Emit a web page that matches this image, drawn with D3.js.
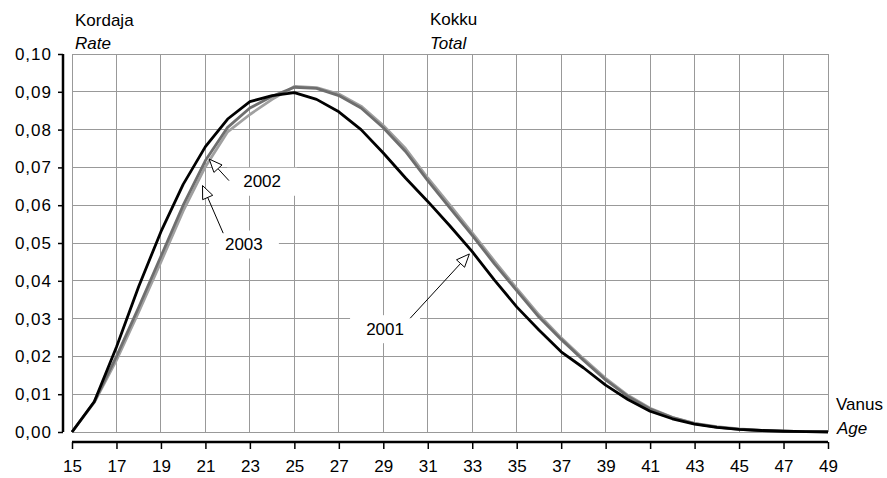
<!DOCTYPE html>
<html>
<head>
<meta charset="utf-8">
<script src="https://cdn.jsdelivr.net/npm/d3@7"></script>
<style>
  html, body { margin: 0; padding: 0; background: #fff; }
  svg { display: block; font-family: Arial, "Liberation Sans", Helvetica, sans-serif; }
</style>
</head>
<body>
<svg id="chart" width="887" height="478"></svg>
<script>
// ---- Data ----
const ages = d3.range(15, 50);
const years = ["2001", "2002", "2003"];
const rate2001 = [0, 0.0080, 0.0225, 0.0385, 0.0530, 0.0655, 0.0755, 0.0828, 0.0874, 0.0890, 0.0898, 0.0880, 0.0847, 0.0800, 0.0738, 0.0672, 0.0610, 0.0545, 0.0477, 0.0402, 0.0331, 0.0270, 0.0212, 0.0170, 0.0124, 0.0086, 0.0055, 0.0035, 0.0021, 0.0012, 0.0007, 0.0004, 0.0002, 0.0001, 0.0000];
const rate2002 = [0, 0.0080, 0.0200, 0.0330, 0.0465, 0.0600, 0.0718, 0.0806, 0.0857, 0.0888, 0.0912, 0.0909, 0.0890, 0.0857, 0.0805, 0.0742, 0.0665, 0.0592, 0.0520, 0.0445, 0.0374, 0.0304, 0.0245, 0.0190, 0.0138, 0.0094, 0.0061, 0.0038, 0.0022, 0.0013, 0.0007, 0.0004, 0.0002, 0.0001, 0.0001];
const rate2003 = [0, 0.0078, 0.0190, 0.0318, 0.0450, 0.0585, 0.0702, 0.0794, 0.0840, 0.0880, 0.0914, 0.0911, 0.0894, 0.0862, 0.0811, 0.0750, 0.0672, 0.0600, 0.0527, 0.0452, 0.0380, 0.0310, 0.0249, 0.0194, 0.0142, 0.0097, 0.0063, 0.0039, 0.0023, 0.0014, 0.0008, 0.0004, 0.0002, 0.0001, 0.0001];
const xTicks = d3.range(15, 50, 2);
const yTicks = d3.range(0, 0.1001, 0.01);
const seriesColors = ["#000000", "#6e6e6e", "#a0a0a0"];
// annotations: arrow tip (age, rate), arrow tail (age, rate), label centre (age, rate)
const annotations = [
  { label: "2002", tip: [21.17, 0.0722], tail: [22.06, 0.0665], text: [23.55, 0.0662] },
  { label: "2003", tip: [20.87, 0.0652], tail: [21.80, 0.0526], text: [22.73, 0.0496] },
  { label: "2001", tip: [32.87, 0.0471], tail: [30.21, 0.0301], text: [29.08, 0.0272] }
];

// ---- Layout ----
const FS = 17;
const svg = d3.select("#chart");
const pLeft = 72, pRight = 828, pTop = 54, pBottom = 432;
const x = d3.scaleLinear().domain([15, 49]).range([pLeft, pRight]);
const y = d3.scaleLinear().domain([0, 0.10]).range([pBottom, pTop]);
const fmt = v => d3.format(".2f")(v).replace(".", ",");

// gridlines
const grid = svg.append("g").attr("stroke", "#999").attr("stroke-width", 1).attr("shape-rendering", "crispEdges");
grid.selectAll(".v").data(xTicks).join("line")
  .attr("x1", d => x(d)).attr("x2", d => x(d)).attr("y1", pTop).attr("y2", pBottom);
grid.selectAll(".h").data(yTicks).join("line")
  .attr("x1", pLeft).attr("x2", pRight).attr("y1", d => y(d)).attr("y2", d => y(d));

// annotation label boxes (white, hide grid)
svg.append("g").selectAll("rect").data(annotations).join("rect")
  .attr("x", d => x(d.text[0]) - 35).attr("y", d => y(d.text[1]) - 14)
  .attr("width", 70).attr("height", 28).attr("fill", "#fff");

// lines
const line = d3.line().x((d, i) => x(ages[i])).y(d => y(d));
const allSeries = [rate2003, rate2002, rate2001];
const allColors = [seriesColors[2], seriesColors[1], seriesColors[0]];
svg.append("g").selectAll("path").data(allSeries).join("path")
  .attr("d", d => line(d)).attr("fill", "none")
  .attr("stroke", (d, i) => allColors[i]).attr("stroke-width", 2.8)
  .attr("stroke-linejoin", "round");

// annotations
const ann = svg.append("g");
annotations.forEach(a => {
  const tx = x(a.tip[0]), ty = y(a.tip[1]);
  const sx = x(a.tail[0]), sy = y(a.tail[1]);
  const ang = Math.atan2(ty - sy, tx - sx);
  const L = 13, W = 5.5;
  const bx = tx - L * Math.cos(ang), by = ty - L * Math.sin(ang);
  ann.append("line").attr("x1", sx).attr("y1", sy).attr("x2", bx).attr("y2", by)
    .attr("stroke", "#000").attr("stroke-width", 1);
  const p1 = [bx + W * Math.sin(ang), by - W * Math.cos(ang)];
  const p2 = [bx - W * Math.sin(ang), by + W * Math.cos(ang)];
  ann.append("path").attr("d", `M${tx},${ty}L${p1[0]},${p1[1]}L${p2[0]},${p2[1]}Z`)
    .attr("fill", "#fff").attr("stroke", "#000").attr("stroke-width", 1);
  ann.append("text").attr("x", x(a.text[0])).attr("y", y(a.text[1]))
    .attr("text-anchor", "middle").attr("dominant-baseline", "central")
    .attr("font-size", FS).attr("fill", "#000").text(a.label);
});

// y axis
const yAxis = svg.append("g").attr("transform", "translate(63,0)")
  .call(d3.axisLeft(y).tickValues(yTicks).tickFormat(fmt).tickSize(5).tickPadding(6));
yAxis.select(".domain").attr("stroke", "#000").attr("stroke-width", 2.5)
  .attr("d", `M0,${pTop}V${pBottom}`);
yAxis.selectAll(".tick line").attr("stroke", "#000").attr("stroke-width", 1.5);
yAxis.selectAll(".tick text").attr("font-size", FS).attr("fill", "#000")
  .attr("letter-spacing", 1)
  .attr("font-family", "Arial, 'Liberation Sans', sans-serif");

// x axis
const xAxis = svg.append("g").attr("transform", "translate(0,442)")
  .call(d3.axisBottom(x).tickValues(xTicks).tickFormat(d3.format("d")).tickSize(7).tickPadding(11));
xAxis.select(".domain").attr("stroke", "#000").attr("stroke-width", 2.5)
  .attr("d", `M${pLeft},0H${pRight}`);
xAxis.selectAll(".tick line").attr("stroke", "#000").attr("stroke-width", 1.5);
xAxis.selectAll(".tick text").attr("font-size", FS).attr("fill", "#000")
  .attr("font-family", "Arial, 'Liberation Sans', sans-serif");

// titles
const t = svg.append("g").attr("font-size", FS).attr("fill", "#000");
t.append("text").attr("x", 75).attr("y", 26).text("Kordaja");
t.append("text").attr("x", 75).attr("y", 49).attr("font-style", "italic").text("Rate");
t.append("text").attr("x", 430).attr("y", 25).text("Kokku");
t.append("text").attr("x", 430).attr("y", 49).attr("font-style", "italic").text("Total");
t.append("text").attr("x", 836).attr("y", 410).text("Vanus");
t.append("text").attr("x", 837).attr("y", 434).attr("font-style", "italic").text("Age");
</script>
</body>
</html>
